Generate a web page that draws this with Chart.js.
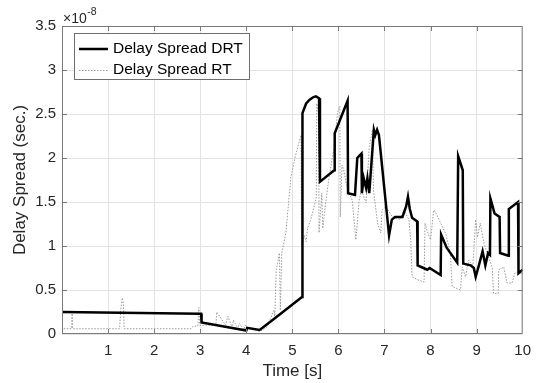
<!DOCTYPE html>
<html>
<head>
<meta charset="utf-8">
<script src="https://cdn.jsdelivr.net/npm/chart.js@4/dist/chart.umd.min.js"></script>
<style>
  html, body { margin: 0; padding: 0; background: #fff; }
  #wrap { width: 539px; height: 383px; }
</style>
</head>
<body>
<div id="wrap"><canvas id="spreadChart" width="539" height="383"></canvas></div>
<script>
// Delay spread over time, values in units of 1e-8 s
const drtTime = [0, 2.99, 3.02, 3.03, 4.0, 4.02, 4.29, 4.6, 5.21, 5.22, 5.3, 5.37, 5.45, 5.51, 5.58, 5.6,
  5.91, 5.92, 6.2, 6.21, 6.36, 6.41, 6.5, 6.51, 6.55, 6.6, 6.63, 6.67, 6.77, 6.8, 6.84, 6.88,
  7.1, 7.16, 7.23, 7.39, 7.47, 7.51, 7.55, 7.6, 7.71, 7.72, 7.93, 7.98, 8.22, 8.23, 8.35, 8.58,
  8.6, 8.7, 8.71, 8.87, 8.94, 8.98, 9.05, 9.13, 9.19, 9.25, 9.29, 9.3, 9.39, 9.5, 9.51, 9.69,
  9.7, 9.9, 9.91, 10];
const drtSpread = [0.25, 0.23, 0.23, 0.13, 0.04, 0.07, 0.045, 0.17, 0.42, 2.51, 2.62, 2.66, 2.69, 2.7, 2.68, 1.73,
  1.86, 2.28, 2.65, 1.6, 1.58, 2.0, 2.05, 1.6, 1.77, 1.66, 1.77, 1.6, 2.32, 2.26, 2.32, 2.26,
  1.12, 1.3, 1.33, 1.33, 1.45, 1.56, 1.42, 1.32, 1.28, 0.78, 0.73, 0.75, 0.67, 1.13, 0.98, 0.81,
  2.02, 1.86, 0.8, 0.78, 0.75, 0.65, 0.78, 0.94, 0.78, 0.92, 0.9, 1.54, 1.37, 1.33, 0.92, 0.89,
  1.42, 1.5, 0.69, 0.73];

const rtTime = [0, 0.01, 0.21, 0.22, 0.23, 1.25, 1.28, 1.31, 1.33, 1.35, 2.8, 2.85, 2.95, 2.97, 2.99, 3.34,
  3.36, 3.55, 3.6, 3.7, 3.72, 3.82, 3.85, 3.95, 3.98, 4.05, 4.3, 4.45, 4.6, 4.62, 4.65, 4.68,
  4.72, 4.74, 4.77, 4.86, 4.97, 5.08, 5.19, 5.2, 5.26, 5.3, 5.33, 5.4, 5.45, 5.52, 5.53, 5.57,
  5.58, 5.64, 5.66, 5.73, 5.8, 5.91, 5.98, 6.03, 6.04, 6.08, 6.12, 6.2, 6.3, 6.38, 6.45, 6.5,
  6.6, 6.67, 6.74, 6.76, 6.85, 6.92, 6.95, 7.03, 7.17, 7.35, 7.42, 7.53, 7.57, 7.6, 7.75, 7.86,
  7.88, 7.92, 8.0, 8.07, 8.1, 8.33, 8.43, 8.47, 8.65, 8.69, 8.76, 8.83, 8.92, 8.98, 9.02, 9.08,
  9.16, 9.23, 9.34, 9.37, 9.47, 9.48, 9.59, 9.66, 9.77, 9.83, 9.91, 9.97, 10];
const rtSpread = [0.25, 0.06, 0.06, 0.25, 0.06, 0.06, 0.3, 0.41, 0.35, 0.06, 0.06, 0.09, 0.09, 0.3, 0.1, 0.1,
  0.25, 0.1, 0.2, 0.07, 0.16, 0.06, 0.12, 0.05, 0.1, 0.06, 0.03, 0.08, 0.27, 0.2, 0.73, 0.8,
  0.92, 0.27, 0.92, 1.15, 1.79, 2.05, 2.26, 0.99, 1.12, 1.05, 1.2, 1.3, 1.4, 1.55, 2.62, 2.5,
  1.15, 1.6, 1.2, 1.52, 1.79, 2.13, 2.51, 2.59, 1.33, 1.92, 1.85, 1.64, 1.52, 1.07, 1.52, 1.64,
  1.49, 2.13, 2.32, 1.64, 1.26, 1.15, 1.41, 1.45, 1.33, 1.3, 1.41, 1.3, 1.07, 0.65, 0.61, 0.59,
  1.26, 1.18, 1.07, 1.41, 1.39, 1.14, 0.92, 0.54, 0.5, 0.76, 0.65, 0.84, 0.78, 1.3, 1.1, 1.26,
  1.03, 0.92, 0.75, 0.46, 0.46, 0.73, 0.76, 0.58, 0.58, 0.69, 0.71, 0.68, 0.75];

const yTicks = [0, 0.5, 1, 1.5, 2, 2.5, 3, 3.5];

const toPoints = (xs, ys) => xs.map((x, i) => ({ x, y: ys[i] }));
const FONT = "'Liberation Sans', Arial, Helvetica, sans-serif";
const AXIS_GRAY = "#7a7a7a";
const TEXT = "#262626";

// MATLAB-ish extras: box on all sides, inward ticks, exponent label, legend inside the axes
const matlabAxes = {
  id: "matlabAxes",
  afterDraw(chart) {
    const { ctx, chartArea: a, scales } = chart;
    ctx.save();
    ctx.strokeStyle = AXIS_GRAY;
    ctx.lineWidth = 1;
    ctx.strokeRect(a.left + 0.5, a.top + 0.5, a.right - a.left - 1, a.bottom - a.top - 1);

    ctx.beginPath();
    const tl = 5;
    for (let v = 1; v < 10; v++) {
      const px = Math.round(scales.x.getPixelForValue(v)) + 0.5;
      ctx.moveTo(px, a.bottom); ctx.lineTo(px, a.bottom - tl);
      ctx.moveTo(px, a.top); ctx.lineTo(px, a.top + tl);
    }
    yTicks.slice(1, -1).forEach((v) => {
      const py = Math.round(scales.y.getPixelForValue(v)) + 0.5;
      ctx.moveTo(a.left, py); ctx.lineTo(a.left + tl, py);
      ctx.moveTo(a.right, py); ctx.lineTo(a.right - tl, py);
    });
    ctx.stroke();

    // exponent
    ctx.fillStyle = TEXT;
    ctx.textBaseline = "alphabetic";
    ctx.textAlign = "left";
    ctx.font = "14px " + FONT;
    ctx.fillText("\u00d710", a.left + 1, 23);
    const w = ctx.measureText("\u00d710").width;
    ctx.font = "10.5px " + FONT;
    ctx.fillText("-8", a.left + 1 + w + 0.5, 15);

    // legend
    const lx = 74, ly = 33, lw = 175, lh = 46;
    ctx.fillStyle = "#fff";
    ctx.fillRect(lx, ly, lw, lh);
    ctx.strokeStyle = "#6e6e6e";
    ctx.strokeRect(lx + 0.5, ly + 0.5, lw, lh);

    ctx.beginPath();
    ctx.strokeStyle = "#000";
    ctx.lineWidth = 2.5;
    ctx.moveTo(79, 49); ctx.lineTo(108, 49);
    ctx.stroke();

    ctx.beginPath();
    ctx.strokeStyle = "#9a9a9a";
    ctx.lineWidth = 1;
    ctx.setLineDash([1.5, 1.5]);
    ctx.moveTo(79, 70.5); ctx.lineTo(108, 70.5);
    ctx.stroke();
    ctx.setLineDash([]);

    ctx.fillStyle = "#000";
    ctx.font = "15.5px " + FONT;
    ctx.textBaseline = "middle";
    ctx.fillText("Delay Spread DRT", 113, 49);
    ctx.fillText("Delay Spread RT", 113, 70);
    ctx.restore();
  },
};

new Chart(document.getElementById("spreadChart"), {
  type: "line",
  data: {
    datasets: [
      {
        label: "Delay Spread DRT",
        data: toPoints(drtTime, drtSpread),
        borderColor: "#000",
        borderWidth: 2.5,
        pointRadius: 0,
        tension: 0,
        fill: false,
      },
      {
        label: "Delay Spread RT",
        data: toPoints(rtTime, rtSpread),
        borderColor: "#9a9a9a",
        borderWidth: 1,
        borderDash: [1.5, 1.5],
        pointRadius: 0,
        tension: 0,
        fill: false,
      },
    ],
  },
  options: {
    responsive: false,
    animation: false,
    devicePixelRatio: 1,
    layout: { padding: { top: 26, right: 15, left: 0, bottom: 0 } },
    plugins: { legend: { display: false }, tooltip: { enabled: false } },
    scales: {
      x: {
        type: "linear",
        min: 0,
        max: 10,
        afterFit: (s) => { s.height = 49; },
        grid: { color: "#e3e3e3", drawTicks: false },
        border: { display: false },
        ticks: {
          stepSize: 1,
          padding: 8,
          color: TEXT,
          font: { family: FONT, size: 15 },
          callback: (v) => (v === 0 ? "" : v),
        },
        title: {
          display: true,
          text: "Time [s]",
          color: TEXT,
          font: { family: FONT, size: 17 },
          padding: { top: 0, bottom: 1 },
        },
      },
      y: {
        min: 0,
        max: 3.5,
        afterFit: (s) => { s.width = 62; },
        afterBuildTicks: (s) => { s.ticks = yTicks.map((v) => ({ value: v })); },
        grid: { color: "#e3e3e3", drawTicks: false },
        border: { display: false },
        ticks: {
          padding: 6,
          color: TEXT,
          font: { family: FONT, size: 15 },
          callback: (v) => String(v),
        },
        title: {
          display: true,
          text: "Delay Spread (sec.)",
          color: TEXT,
          font: { family: FONT, size: 17 },
          padding: { top: 10, bottom: 0 },
        },
      },
    },
  },
  plugins: [matlabAxes],
});
</script>
</body>
</html>
